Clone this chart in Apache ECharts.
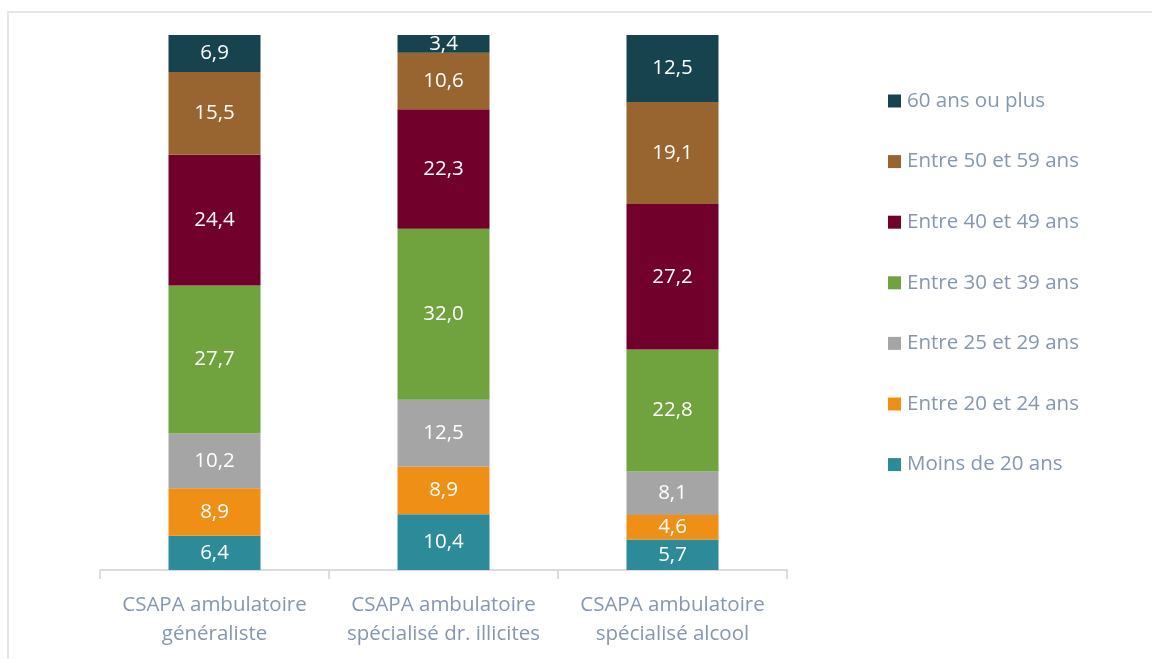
<!DOCTYPE html>
<html lang="fr">
<head>
  <meta charset="UTF-8">
  <title>Répartition par âge</title>
  <script src="https://cdn.jsdelivr.net/npm/echarts@6/dist/echarts.min.js"></script>
  <style>
    html, body { margin: 0; padding: 0; background: #fff; }
    #frame {
      position: absolute; left: 7px; top: 11px; width: 1160px; height: 660px;
      border-left: 2px solid #e2e7ee; border-top: 2px solid #e2e7ee;
    }
    #chart { position: absolute; left: 0; top: 0; width: 1152px; height: 659px; }
  </style>
</head>
<body>
<div id="frame"></div>
<div id="chart"></div>

<script>
  // catégories et tranches d'âge
  const categories = [
    'CSAPA ambulatoire\ngénéraliste',
    'CSAPA ambulatoire\nspécialisé dr. illicites',
    'CSAPA ambulatoire\nspécialisé alcool'
  ];
  const ageGroups = [
    'Moins de 20 ans', 'Entre 20 et 24 ans', 'Entre 25 et 29 ans',
    'Entre 30 et 39 ans', 'Entre 40 et 49 ans', 'Entre 50 et 59 ans', '60 ans ou plus'
  ];
  const colors = ['#2c8a99', '#ef8f15', '#a5a5a5', '#70a23e', '#71002a', '#98642f', '#17434f'];

  // une ligne par tranche d'âge, dans l'ordre des catégories
  const moins20 = [6.4, 10.4, 5.7];
  const de20a24 = [8.9, 8.9, 4.6];
  const de25a29 = [10.2, 12.5, 8.1];
  const de30a39 = [27.7, 32.0, 22.8];
  const de40a49 = [24.4, 22.3, 27.2];
  const de50a59 = [15.5, 10.6, 19.1];
  const plus60  = [6.9, 3.4, 12.5];
  const values = [moins20, de20a24, de25a29, de30a39, de40a49, de50a59, plus60];

  const chart = echarts.init(document.getElementById('chart'));
  const font = "'Open Sans', sans-serif";

  chart.setOption({
    animation: false,
    color: colors,
    textStyle: { fontFamily: font },
    grid: { left: 100, width: 687, top: 35, bottom: 89 },
    legend: {
      orient: 'vertical',
      left: 883,
      top: 85,
      itemWidth: 13,
      itemHeight: 13,
      itemGap: 38.6,
      icon: 'rect',
      data: ageGroups.slice().reverse(),
      textStyle: { color: '#8497b0', fontSize: 20.5, lineHeight: 22, fontFamily: font, padding: [0, 0, 0, 1] }
    },
    xAxis: {
      type: 'category',
      data: categories,
      axisLine: { lineStyle: { color: '#d9dde2', width: 2 } },
      axisTick: { show: true, length: 9, lineStyle: { color: '#d9dde2', width: 2 } },
      axisLabel: { interval: 0, color: '#8497b0', fontSize: 20.5, lineHeight: 29, margin: 21, fontFamily: font }
    },
    yAxis: {
      type: 'value',
      min: 0,
      max: 100,
      show: false,
      splitLine: { show: false }
    },
    series: ageGroups.map((name, i) => ({
      name: name,
      type: 'bar',
      stack: 'total',
      barWidth: 92,
      data: values[i],
      label: {
        show: true,
        position: 'inside',
        color: '#ffffff',
        fontSize: 20.5,
        fontFamily: font,
        formatter: p => p.value.toFixed(1).replace('.', ',')
      }
    }))
  });
</script>
</body>
</html>
